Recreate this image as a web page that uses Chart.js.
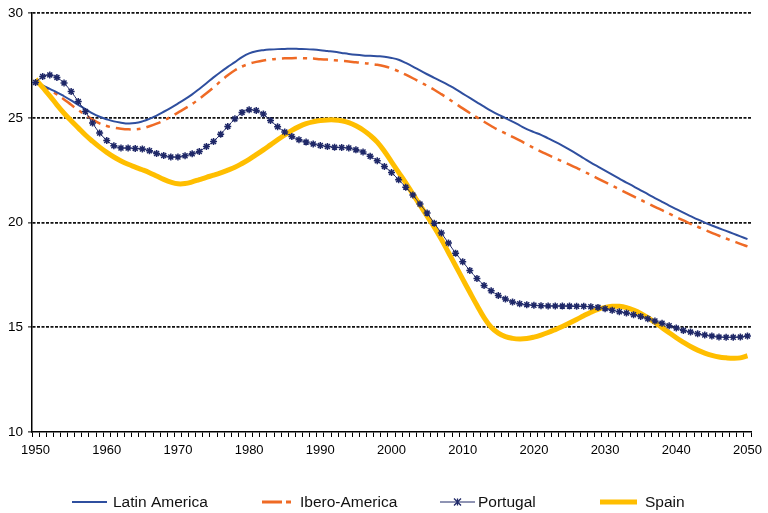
<!DOCTYPE html>
<html><head><meta charset="utf-8">
<script src="https://cdn.jsdelivr.net/npm/chart.js@4/dist/chart.umd.min.js"></script>
<style>html,body{margin:0;padding:0;background:#fff}#wrap{width:768px;height:513px}</style>
</head><body><div id="wrap"><canvas id="c" width="768" height="513"></canvas></div>
<script>
const years = [];
for (let y = 1950; y <= 2050; y++) years.push(String(y));

const seriesNames = ["Latin America", "Ibero-America", "Portugal", "Spain"];

const latinAmerica = [
26.69,26.55,26.38,26.22,26.03,25.83,25.62,25.42,25.21,25.05,
24.93,24.83,24.77,24.73,24.75,24.83,24.95,25.11,25.29,25.48,
25.68,25.89,26.12,26.38,26.65,26.93,27.19,27.43,27.66,27.90,
28.08,28.18,28.23,28.26,28.28,28.29,28.30,28.29,28.28,28.26,
28.23,28.19,28.15,28.10,28.05,28.01,27.98,27.96,27.94,27.92,
27.86,27.77,27.62,27.45,27.26,27.08,26.91,26.74,26.56,26.37,
26.16,25.95,25.74,25.53,25.33,25.15,24.99,24.82,24.64,24.46,
24.32,24.19,24.02,23.85,23.67,23.48,23.28,23.07,22.86,22.67,
22.48,22.29,22.10,21.91,21.73,21.54,21.36,21.17,20.99,20.81,
20.64,20.47,20.31,20.15,20.00,19.86,19.73,19.60,19.47,19.34,
19.21];

const iberoAmerica = [
26.69,26.52,26.33,26.12,25.88,25.62,25.37,25.14,24.92,24.73,
24.61,24.53,24.48,24.45,24.45,24.50,24.60,24.72,24.87,25.05,
25.25,25.45,25.66,25.91,26.17,26.45,26.75,27.03,27.27,27.45,
27.58,27.67,27.74,27.79,27.82,27.84,27.85,27.85,27.84,27.83,
27.80,27.78,27.75,27.72,27.69,27.65,27.62,27.58,27.53,27.46,
27.36,27.22,27.06,26.89,26.71,26.53,26.34,26.13,25.91,25.68,
25.45,25.23,25.02,24.81,24.61,24.42,24.26,24.09,23.92,23.74,
23.56,23.39,23.23,23.07,22.92,22.77,22.61,22.44,22.27,22.10,
21.93,21.76,21.59,21.42,21.25,21.08,20.92,20.75,20.59,20.43,
20.26,20.10,19.94,19.80,19.65,19.51,19.37,19.24,19.11,18.98,
18.86];

const portugal = [
26.69,26.97,27.05,26.93,26.66,26.26,25.78,25.30,24.75,24.27,
23.92,23.67,23.56,23.56,23.54,23.51,23.43,23.30,23.20,23.13,
23.13,23.19,23.28,23.39,23.63,23.87,24.22,24.59,24.95,25.26,
25.38,25.35,25.18,24.87,24.57,24.32,24.11,23.95,23.84,23.75,
23.68,23.63,23.60,23.58,23.56,23.47,23.37,23.16,22.95,22.68,
22.39,22.04,21.69,21.31,20.88,20.45,19.97,19.50,19.02,18.54,
18.13,17.71,17.33,17.00,16.74,16.52,16.35,16.21,16.12,16.08,
16.05,16.03,16.02,16.02,16.01,16.01,16.00,16.00,15.98,15.95,
15.89,15.81,15.74,15.68,15.60,15.52,15.41,15.30,15.19,15.07,
14.96,14.85,14.77,14.69,14.63,14.58,14.53,14.52,14.52,14.53,
14.58];

const spain = [
26.85,26.45,26.05,25.62,25.22,24.86,24.52,24.18,23.88,23.60,
23.35,23.13,22.94,22.78,22.65,22.52,22.38,22.22,22.06,21.93,
21.85,21.86,21.94,22.05,22.16,22.26,22.37,22.50,22.64,22.82,
23.02,23.24,23.47,23.71,23.95,24.18,24.40,24.58,24.72,24.81,
24.87,24.90,24.90,24.86,24.77,24.62,24.42,24.16,23.84,23.40,
22.90,22.40,21.90,21.36,20.83,20.30,19.78,19.20,18.57,17.94,
17.30,16.67,16.05,15.46,15.00,14.72,14.55,14.47,14.44,14.46,
14.53,14.63,14.75,14.89,15.04,15.20,15.37,15.55,15.72,15.86,
15.95,16.00,16.00,15.94,15.82,15.66,15.46,15.23,14.98,14.74,
14.50,14.28,14.08,13.91,13.77,13.66,13.58,13.54,13.52,13.54,
13.64];

const yTicks = [10, 15, 20, 25, 30];

const FONT = '"Liberation Sans", Arial, sans-serif';

const legendPlugin = {
  id: 'customLegend',
  afterDraw(chart) {
    const ctx = chart.ctx;
    const y = 502;
    const items = [
      {i: 0, sx: 72, sw: 35, tx: 113, dash: [], w: 2},
      {i: 1, sx: 262, sw: 29, tx: 300, dash: [20, 4, 5, 4], w: 3},
      {i: 2, sx: 440, sw: 35, tx: 478, dash: [], w: 1},
      {i: 3, sx: 600, sw: 37, tx: 645, dash: [], w: 5}
    ];
    ctx.save();
    items.forEach(it => {
      const ds = chart.data.datasets[it.i];
      ctx.beginPath();
      ctx.setLineDash(it.dash);
      ctx.strokeStyle = ds.borderColor;
      ctx.lineWidth = it.w;
      ctx.moveTo(it.sx, y);
      ctx.lineTo(it.sx + it.sw, y);
      ctx.stroke();
      ctx.setLineDash([]);
      if (ds.pointStyle === 'star') {
        const cx = it.sx + it.sw / 2, r = 3.5;
        ctx.beginPath();
        ctx.lineWidth = 1.3;
        ctx.moveTo(cx - r, y - r); ctx.lineTo(cx + r, y + r);
        ctx.moveTo(cx + r, y - r); ctx.lineTo(cx - r, y + r);
        ctx.moveTo(cx, y - r); ctx.lineTo(cx, y + r);
        ctx.stroke();
      }
      ctx.fillStyle = '#111';
      ctx.font = '15.5px ' + FONT;
      ctx.textBaseline = 'middle';
      ctx.textAlign = 'left';
      ctx.fillText(ds.label, it.tx, y + 1);
    });
    ctx.restore();
  }
};

new Chart(document.getElementById('c'), {
  type: 'line',
  data: {
    labels: years,
    datasets: [
      {label: seriesNames[0], data: latinAmerica, borderColor: '#2f4f9f', borderWidth: 2,
       pointRadius: 0, tension: 0.4, order: 2},
      {label: seriesNames[1], data: iberoAmerica, borderColor: '#ef6a25', borderWidth: 2.5,
       borderDash: [15, 6, 4, 6], pointRadius: 0, tension: 0.4, order: 3},
      {label: seriesNames[2], data: portugal, borderColor: '#1f2868', borderWidth: 1,
       pointStyle: 'star', pointRadius: 3.5, pointBorderWidth: 1.5, pointBorderColor: '#1f2868',
       pointBackgroundColor: '#1f2868', tension: 0.3, order: 0},
      {label: seriesNames[3], data: spain, borderColor: '#ffbe00', borderWidth: 5,
       pointRadius: 0, tension: 0.4, order: 1}
    ]
  },
  options: {
    responsive: false,
    animation: false,
    events: [],
    layout: {padding: {left: 0, right: 14, top: 13, bottom: 51}},
    plugins: {legend: {display: false}, tooltip: {enabled: false}},
    scales: {
      x: {
        type: 'category',
        offset: true,
        afterFit: s => { s.height = 30; },
        grid: {offset: true, drawOnChartArea: false, drawTicks: true, tickLength: 5,
               color: '#000', tickColor: '#000', lineWidth: 1},
        border: {display: true, color: '#000', width: 1.5},
        ticks: {
          autoSkip: false, maxRotation: 0, minRotation: 0, padding: 6,
          color: '#000', font: {family: FONT, size: 13},
          callback: function(v) { const l = this.getLabelForValue(v); return Number(l) % 10 === 0 ? l : ''; }
        }
      },
      y: {
        min: 10, max: 30,
        afterFit: s => { s.width = 32; },
        afterBuildTicks: s => { s.ticks = yTicks.map(v => ({value: v})); },
        grid: {
          color: c => (c.tick && c.tick.value === 10) ? 'rgba(0,0,0,0)' : '#111',
          lineWidth: 1.8, tickLength: 4, tickColor: '#000', tickWidth: 1
        },
        border: {display: true, color: '#000', width: 1.5, dash: [3, 1.5]},
        ticks: {stepSize: 5, padding: 5, color: '#000', font: {family: FONT, size: 13.5}}
      }
    }
  },
  plugins: [legendPlugin]
});
</script>
</body></html>
